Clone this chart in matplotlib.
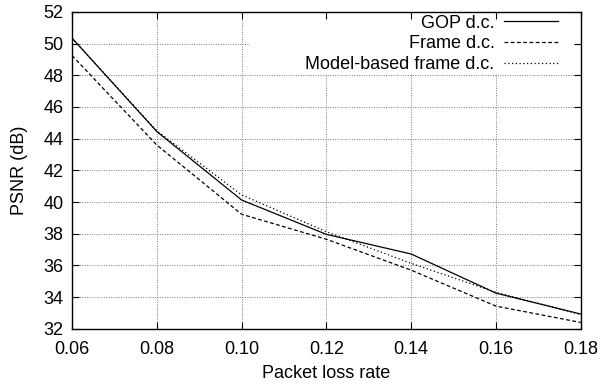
import numpy as np
import matplotlib
matplotlib.use("Agg")
import matplotlib.pyplot as plt
from matplotlib.patches import Rectangle

loss_rate = [0.06, 0.08, 0.10, 0.12, 0.14, 0.16, 0.18]
gop_dc = [50.35, 44.45, 40.13, 37.96, 36.72, 34.25, 32.93]
frame_dc = [49.25, 43.6, 39.23, 37.65, 35.7, 33.43, 32.4]
model_frame_dc = [50.35, 44.5, 40.45, 38.13, 36.13, 34.3, 32.9]

x_ticks = [0.06, 0.08, 0.10, 0.12, 0.14, 0.16, 0.18]
x_tick_labels = ["0.06", "0.08", "0.10", "0.12", "0.14", "0.16", "0.18"]
y_ticks = list(range(32, 53, 2))

plt.rcParams['font.family'] = ['Liberation Sans', 'DejaVu Sans']
plt.rcParams['font.size'] = 13

fig = plt.figure(figsize=(6, 3.85), dpi=100)
pos = [0.12, 0.146, 0.848, 0.823]

# grid lives on its own axes underneath so the key can mask it
ax_bg = fig.add_axes(pos)
ax_bg.set_xlim(0.06, 0.18)
ax_bg.set_ylim(32, 52)
ax_bg.set_xticks(x_ticks)
ax_bg.set_yticks(y_ticks)
ax_bg.grid(True, linestyle=(0, (1, 1.5)), color="#777777", linewidth=0.7)
ax_bg.tick_params(length=0, labelbottom=False, labelleft=False)
for s in ax_bg.spines.values():
    s.set_visible(False)

ax = fig.add_axes(pos)
ax.patch.set_alpha(0)
ax.add_patch(Rectangle((0.35, 0.804), 0.65, 0.196, transform=ax.transAxes,
                       facecolor="white", edgecolor="none", zorder=0.9))

ax.plot(loss_rate, gop_dc, color="black", lw=0.9, linestyle="-", label="GOP d.c.")
ax.plot(loss_rate, frame_dc, color="black", lw=0.9, linestyle=(0, (3, 2)), label="Frame d.c.")
ax.plot(loss_rate, model_frame_dc, color="black", lw=0.9, linestyle=(0, (1, 2)),
        label="Model-based frame d.c.")

ax.set_xlim(0.06, 0.18)
ax.set_ylim(32, 52)
ax.set_xticks(x_ticks)
ax.set_xticklabels(x_tick_labels)
ax.set_yticks(y_ticks)
ax.tick_params(direction="in", length=5, width=0.8, top=True, right=True)
ax.tick_params(axis="x", pad=9)
ax.tick_params(axis="y", pad=6)
for s in ax.spines.values():
    s.set_linewidth(1.0)

ax.set_xlabel("Packet loss rate", labelpad=5)
ax.set_ylabel("PSNR (dB)", labelpad=11)

leg = ax.legend(loc="upper right", bbox_to_anchor=(0.969, 1.014), frameon=False,
                markerfirst=False, handlelength=3.0, handletextpad=0.5,
                labelspacing=0.2, borderaxespad=0.0)

fig.savefig("out.png", dpi=100)
